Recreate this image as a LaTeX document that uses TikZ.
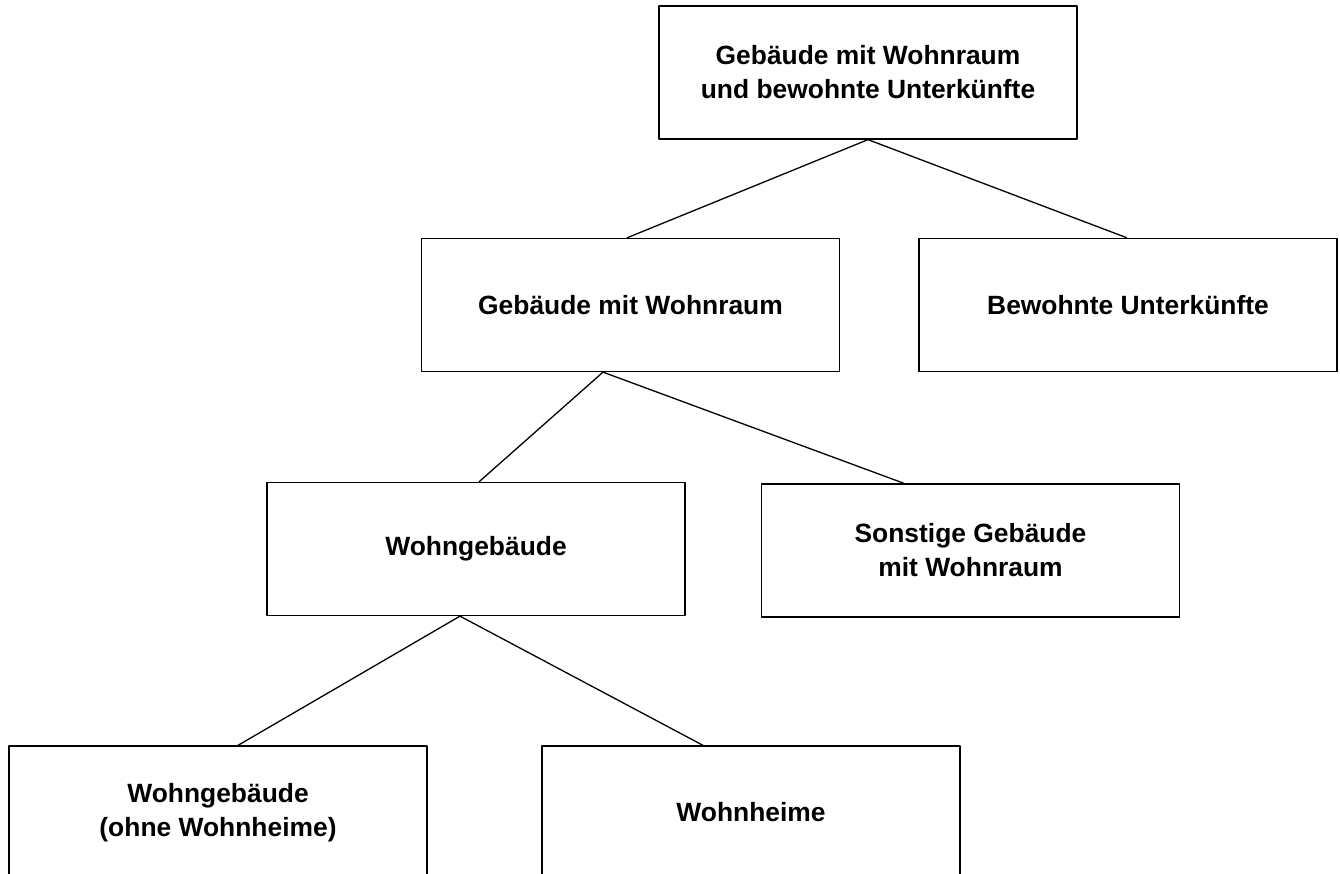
\documentclass[tikz,border=0pt]{standalone}
\usepackage{fontspec}
\setmainfont{Liberation Sans}
\usetikzlibrary{positioning}

\begin{document}
\begin{tikzpicture}[line join=bevel,
    box/.style={draw=black,line width=1.3bp,rectangle,minimum width=418bp,minimum height=133bp,
      inner sep=0pt,align=center,font=\fontsize{26.4bp}{34bp}\selectfont\bfseries},
    link/.style={line width=1.3bp}]
      %%
      \useasboundingbox (0bp,0bp) rectangle (1340bp,874bp);
      \node (0) at (868.0bp,801.5bp) [box] {Gebäude mit Wohnraum\\und bewohnte Unterkünfte};
      \node (1) at (630.5bp,569.0bp) [box] {Gebäude mit Wohnraum};
      \node (2) at (1128.0bp,569.0bp) [box] {Bewohnte Unterkünfte};
      \node (3) at (476.0bp,325.0bp) [box] {Wohngebäude};
      \node (4) at (970.5bp,323.5bp) [box] {Sonstige Gebäude\\mit Wohnraum};
      \node (5) at (218.0bp,61.5bp) [box] {Wohngebäude\\(ohne Wohnheime)};
      \node (6) at (751.0bp,61.5bp) [box] {Wohnheime};
      %%
      \draw [link] (0.south) -- ([xshift=-3.5bp]1.north);
      \draw [link] (0.south) -- ([xshift=-1.0bp]2.north);
      \draw [link] ([xshift=-27.5bp]1.south) -- ([xshift=3.0bp]3.north);
      \draw [link] ([xshift=-27.5bp]1.south) -- ([xshift=-66.5bp]4.north);
      \draw [link] ([xshift=-16.0bp]3.south) -- ([xshift=20.0bp]5.north);
      \draw [link] ([xshift=-16.0bp]3.south) -- ([xshift=-48.0bp]6.north);
    \end{tikzpicture}
\end{document}
